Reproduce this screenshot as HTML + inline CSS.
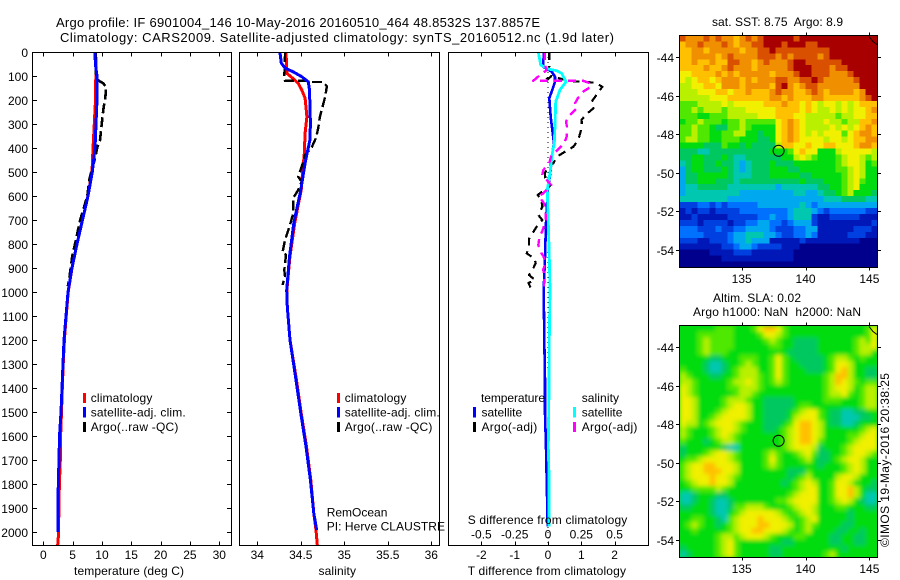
<!DOCTYPE html>
<html>
<head>
<meta charset="utf-8">
<title>Argo profile 6901004_146</title>
<style>
html,body{margin:0;padding:0;background:#fff;}
svg{display:block;}
text{font-family:"Liberation Sans",sans-serif;font-size:12px;fill:#000;white-space:pre;}
.ttl{font-size:13px;}
</style>
</head>
<body>
<svg id="chart" xmlns="http://www.w3.org/2000/svg" width="900" height="580" viewBox="0 0 900 580">
<defs>
<filter id="slaSmooth" x="-5%" y="-5%" width="110%" height="110%"><feGaussianBlur stdDeviation="2.2"/></filter>
<clipPath id="slaClip"><rect x="679.5" y="325.5" width="198" height="232"/></clipPath>
</defs>
<rect x="0" y="0" width="900" height="580" fill="#ffffff"/>
<text class="ttl" x="56" y="27" textLength="484">Argo profile: IF 6901004_146 10-May-2016 20160510_464 48.8532S 137.8857E</text>
<text class="ttl" x="60" y="42" textLength="554">Climatology: CARS2009. Satellite-adjusted climatology: synTS_20160512.nc (1.9d later)</text>
<text x="712" y="26" textLength="131">sat. SST: 8.75  Argo: 8.9</text>
<text x="713" y="302" textLength="88">Altim. SLA: 0.02</text>
<text x="693" y="316" textLength="168">Argo h1000: NaN  h2000: NaN</text>
<g id="maps"></g>
<g id="panels"></g>
<text x="74" y="575" textLength="110">temperature (deg C)</text>
<text x="318.5" y="575" textLength="37.5">salinity</text>
<text x="467.7" y="575" textLength="158.3">T difference from climatology</text>
<text x="467.7" y="524" textLength="159.6">S difference from climatology</text>

<rect x="83" y="393" width="3" height="10" fill="#ff0000"/>
<rect x="83" y="407" width="3" height="10.5" fill="#0000ff"/>
<rect x="83" y="422" width="3" height="10" fill="#000000"/>
<text x="90.7" y="402" textLength="61.7">climatology</text>
<text x="90.7" y="416.5" textLength="95">satellite-adj. clim.</text>
<text x="90.7" y="431" textLength="87.7">Argo(..raw -QC)</text>

<rect x="337" y="393" width="3" height="10" fill="#ff0000"/>
<rect x="337" y="407" width="3" height="10.5" fill="#0000ff"/>
<rect x="337" y="422" width="3" height="10" fill="#000000"/>
<text x="344.7" y="402" textLength="61.7">climatology</text>
<text x="344.7" y="416.5" textLength="95">satellite-adj. clim.</text>
<text x="344.7" y="431" textLength="87.7">Argo(..raw -QC)</text>

<text x="481" y="402" textLength="64">temperature</text>
<rect x="473" y="407" width="3" height="10.5" fill="#0000ff"/>
<rect x="473" y="422" width="3" height="10" fill="#000000"/>
<text x="481.5" y="416.5" textLength="40.7">satellite</text>
<text x="481.5" y="431" textLength="55.7">Argo(-adj)</text>
<text x="581.7" y="402" textLength="37.3">salinity</text>
<rect x="573" y="407" width="3" height="10.5" fill="#00ffff"/>
<rect x="573" y="422" width="3" height="10" fill="#ff00ff"/>
<text x="581.7" y="416.5" textLength="40.7">satellite</text>
<text x="581.7" y="431" textLength="55.7">Argo(-adj)</text>

<text x="326.7" y="516.5" textLength="60.7">RemOcean</text>
<text x="326.7" y="530.5" textLength="118.3">PI: Herve CLAUSTRE</text>
<text transform="rotate(-90 889 547)" x="889" y="547" textLength="174">©IMOS 19-May-2016 20:38:25</text>
</svg>
<script>
/* ---------- chart data ---------- */
const depthTicks = [0,100,200,300,400,500,600,700,800,900,1000,1100,1200,1300,1400,1500,1600,1700,1800,1900,2000];
const tempTicks = [0,5,10,15,20,25,30];
const salTicks = [34,34.5,35,35.5,36];
const salTickLabels = ['34','34.5','35','35.5','36'];
const tDiffTicks = [-2,-1,0,1,2];
const sDiffTickLabels = ['-0.5','-0.25','0','0.25','0.5'];
const sDiffTicks = [-0.5,-0.25,0,0.25,0.5];
const latTicks = [-44,-46,-48,-50,-52,-54];
const lonTicks = [135,140,145];

const tempClimDepth = [0,50,100,200,300,400,500,600,700,800,900,1000,1100,1200,1300,1400,1500,1600,1700,1800,1900,2000,2054];
const tempClimValues = [8.9,9.0,8.95,8.9,8.69,8.47,8.3,7.6,6.68,5.74,4.89,4.25,3.9,3.6,3.4,3.24,3.1,2.95,2.9,2.75,2.65,2.62,2.45];
const tempSatDepth = [0,50,100,150,200,300,400,500,600,700,800,900,1000,1100,1200,1300,1400,1500,1600,1700,1800,1900,2000];
const tempSatValues = [8.81,8.89,9.15,9.15,9.15,8.98,8.81,8.35,7.62,6.68,5.74,4.89,4.21,3.87,3.53,3.36,3.19,3.02,2.76,2.67,2.56,2.5,2.5];
const tempArgoDepth = [0,100,117,130,145,200,228,300,367,390,445,510,533,600,700,800,850,950,975];
const tempArgoValues = [8.9,9.0,9.3,10.2,10.7,10.56,10.3,9.95,9.66,9.27,8.8,8.07,7.84,7.5,6.3,5.4,4.95,4.4,4.2];

const salClimDepth = [0,89,110,130,158,192,270,338,422,505,575,713,853,992,1061,1200,1367,1505,1644,1783,1922,1992,2054];
const salClimValues = [34.33,34.34,34.41,34.47,34.51,34.55,34.57,34.55,34.54,34.52,34.505,34.43,34.375,34.34,34.345,34.376,34.45,34.505,34.565,34.615,34.65,34.675,34.69];
const salSatDepth = [0,46,67,82,103,124,158,297,367,408,463,575,713,853,992,1061,1200,1367,1505,1644,1783,1922,1992];
const salSatValues = [34.26,34.276,34.32,34.41,34.51,34.586,34.6,34.61,34.605,34.58,34.55,34.5,34.42,34.37,34.338,34.345,34.376,34.445,34.5,34.56,34.61,34.65,34.683];
const salArgoDepth = [0,105,120,120,125,125,142,186,215,270,318,358,397,429,478,520,540,575,608,671,721,783,836,845,908,936,971];
const salArgoValues = [34.32,34.31,34.318,34.568,34.63,34.75,34.8,34.78,34.76,34.72,34.7,34.675,34.625,34.548,34.51,34.47,34.51,34.47,34.414,34.414,34.376,34.318,34.29,34.33,34.31,34.318,34.29];

const diffZeroDepth = [0,2054];
const diffZeroValues = [0,0];
const tDiffSatDepth = [0,61,82,103,124,158,192,270,325,380,422,505,575,713,853,992,1200,1367,1505,1644,1783,1900,1978];
const tDiffSatValues = [-0.12,-0.15,0.11,0.21,0.21,0.13,0.04,0.08,0.13,0.18,0.13,0.07,-0.01,-0.06,-0.09,-0.13,-0.11,-0.09,-0.09,-0.06,-0.04,-0.02,-0.01];
const tDiffArgoDepth = [0,60,82,96,114,100,120,128,145,207,235,262,283,310,367,395,420,436,464,475,505,525,554,596,615,645,679,700,728,750,778,811,839,860,880,901,929,950,962,985];
const tDiffArgoValues = [0.04,0.04,-0.09,-0.11,0,0.1,0.6,1.43,1.63,1.31,1.36,1.13,1.01,1.02,0.91,0.76,0.46,0.27,0.16,0.01,-0.09,-0.08,0.09,-0.31,-0.2,-0.17,-0.29,-0.17,-0.34,-0.44,-0.57,-0.57,-0.64,-0.41,-0.37,-0.44,-0.57,-0.39,-0.59,-0.51];
const sDiffSatDepth = [0,54,71,78,89,124,158,207,297,380,422,505,575,713,853,992,1200,1367,1644,1783,1978];
const sDiffSatValues = [-0.073,-0.055,0.002,0.065,0.103,0.135,0.09,0.058,0.053,0.047,0.032,0.015,-0.005,0.002,0.01,0.015,0.01,0.008,0.002,0.008,0.008];
const sDiffArgoDepth = [0,55,75,96,120,120,131,147,165,193,214,235,262,290,318,353,380,405,436,464,492,513,533,554,589,600,631,660,700,742,775,804,838,850,879,905,933,978];
const sDiffArgoValues = [-0.023,-0.023,-0.01,-0.06,-0.11,0.264,0.32,0.315,0.264,0.223,0.203,0.215,0.165,0.135,0.145,0.14,0.122,0.077,0.023,0.008,-0.035,-0.043,-0.01,0.023,-0.035,-0.068,-0.03,-0.02,-0.015,-0.04,-0.065,-0.073,-0.05,-0.035,-0.017,-0.035,-0.03,-0.03];

/* gridded satellite values: one hex colour-level per cell, west to east, north to south */
const sstLevels = [
"dcccdcdccbc"+"dcdeeeeedee"+"eeeeeeeeeee",
"bccdcccdcbc"+"cddeeedeeed"+"deeeeeeeeee",
"bbccbcccccb"+"ccddedddddd"+"dddeeeeeeee",
"bbccccbcdcc"+"ccdddcdcddd"+"dcdeeeeeeee",
"bbcbbcbbddc"+"cbcdcccdeed"+"dddddeeeeee",
"bbbbcbbcdcc"+"cbcccccdeee"+"dddcddeeeee",
"aabbbbcbcbc"+"ccccbcccdee"+"dddcccdeeee",
"a9abbabcccb"+"cbcccddccdd"+"edcccccdeee",
"99aabbacccb"+"ccccbdecbcd"+"dccccccceee",
"999aaabbabb"+"cbbbcdccbbc"+"dcbccccbcee",
"99999aaabbb"+"bbbbccbcbbb"+"ccbbbbbbcde",
"8889999a9aa"+"aaabbbcbbab"+"a9aa9a9abbb",
"88989998999"+"aaaaabbbbab"+"a99a9a9aabc",
"88877888999"+"99aaabbbaa9"+"9999899aabb",
"78898887889"+"88888abcba9"+"99a99899bbc",
"88988766889"+"87777abcba9"+"999a9a9abcb",
"88988778899"+"77677abcba9"+"a9aaa8abccb",
"89988778887"+"77667abcbaa"+"aa9aa9abbcc",
"77776668776"+"766669bbaab"+"aabbaaabccb",
"66655666666"+"66667778aba"+"a7779aaaaa9",
"66776667655"+"666666779a9"+"877789aa989",
"56776676654"+"56667666777"+"777789aa978",
"46776667654"+"56667776677"+"7777889a977",
"46677777655"+"56667777766"+"7777789a977",
"46677766656"+"66666666676"+"6677789a877",
"45566666555"+"55555455555"+"5667789a777",
"45555555554"+"44444444554"+"45667897776",
"55555555444"+"44444444444"+"44555666655",
"22233232333"+"33444444454"+"34444444444",
"12122122223"+"33333334555"+"43233333322",
"11211111222"+"22334334555"+"21122222111",
"22212222122"+"33443323444"+"21111111112",
"33322232233"+"44443222334"+"41111112221",
"33332222344"+"55544322334"+"31111122211",
"22211222344"+"54441111121"+"11111111000",
"11111112234"+"43222211100"+"00000000000",
"00000111122"+"21111111000"+"00000000000",
"00000001111"+"11111111000"+"00000000000",
"00000000000"+"00000000000"+"00000000000"
];
const slaLevels = [
"77777788877"+"78abba87777"+"7777777778a",
"77788888877"+"778aa987777"+"7777777778a",
"77789888877"+"77789877666"+"6777777898a",
"77789888877"+"77778877666"+"6777777899a",
"77789888777"+"77777776666"+"67777778997",
"77777667778"+"88778a87666"+"66789987877",
"77776556778"+"98778a87766"+"6678aa97777",
"87776556789"+"99778a87776"+"6678ab97766",
"98777667789"+"99878a87777"+"7789bb97766",
"99877777899"+"a9878987777"+"7789ba98788",
"a9877777889"+"99877777777"+"7789aa97899",
"a9877777789"+"98777777777"+"77899a87899",
"aa977778999"+"87766666777"+"77888777899",
"aa9777789aa"+"97766666788"+"77777777899",
"aa977789aaa"+"9776666789a"+"a8766556677",
"aa97789aaaa"+"977666679aa"+"a8766555667",
"a99789aaa98"+"77766678abb"+"a9766556777",
"9877789aa98"+"77766789abb"+"a977777789a",
"9877789a987"+"77777789abb"+"a97777889aa",
"87776789987"+"77777789abb"+"a8777789aaa",
"67777776557"+"77777789aaa"+"9677789aaaa",
"677789aa987"+"7778987789a"+"8667789aa98",
"7889aaaa987"+"7778a877789"+"766789aa977",
"89aabbaaa97"+"77789877777"+"7677789a977",
"89aabbbaa97"+"77777776668"+"7777789a977",
"89aaabaa987"+"77777776789"+"77779aa9777",
"789aabaa977"+"7777776789a"+"9778aa97776",
"77888898777"+"7777777789a"+"a778aab9766",
"55677766777"+"777777789aa"+"a778aab9755",
"55677655677"+"77777889aaa"+"a7789a97655",
"66777655688"+"999877789aa"+"97778877766",
"77777655789"+"aaaaa98789a"+"97777767777",
"7788776589a"+"aabaaa98789"+"a7777767777",
"7898776789a"+"aabbaaa9789"+"87777667777",
"7787777789a"+"abbaaa98789"+"77776677677",
"77777789989"+"aaa98777887"+"77766776677",
"77777789a87"+"77777766777"+"77766776677",
"67777789a87"+"77776677777"+"77777677777",
"56777789a87"+"77776677777"+"77897777777"
];
const argoLon = [137.8857];
const argoLat = [-48.8532];
const levelColours = ["#00008c","#0018b8","#0040e0","#0070ff","#00a8f0","#00c8b0","#00c860","#00dc10","#50e800","#b8f000","#f0f000","#ffc000","#f09000","#d85000","#a80000"];

/* ---------- axis functions ---------- */
const yDepth = d => 52 + d * 0.24;
const xTemp = t => 43.3 + t * 5.865;
const xSal = s => 257.3 + (s - 34) * 87;
const xTDiff = t => 548 + t * 33.3;
const xSDiff = s => 548 + s * 133.2;
const xLon = l => 741.7 + (l - 135) * 12.77;
const yLatA = l => 57.3 + (-44 - l) * 19.27;
const yLatB = l => 347.3 + (-44 - l) * 19.27;

const NS = 'http://www.w3.org/2000/svg';
const panelRoot = document.getElementById('panels');
const mapRoot = document.getElementById('maps');

function mk(tag, attrs, parent) {
  const el = document.createElementNS(NS, tag);
  for (const k in attrs) el.setAttribute(k, attrs[k]);
  parent.appendChild(el);
  return el;
}
function tickLine(x1, y1, x2, y2, name, parent) {
  const el = mk('line', {x1, y1, x2, y2, stroke:'#000', 'stroke-width':1, 'shape-rendering':'crispEdges'}, parent);
  
  
}
function label(x, y, str, anchor, name, parent) {
  const el = mk('text', {x, y, 'text-anchor':anchor}, parent);
  el.textContent = str;
  
  
}
function box(x1, y1, x2, y2, name, parent) {
  const el = mk('rect', {x:x1, y:y1, width:x2-x1, height:y2-y1, fill:'none', stroke:'#000', 'stroke-width':1, 'shape-rendering':'crispEdges'}, parent);
  
  
}
function series(depths, values, xFn, colour, width, dash, name, parent) {
  const pts = depths.map((d, i) => xFn(values[i]).toFixed(1) + ',' + yDepth(d).toFixed(1)).join(' ');
  const el = mk('polyline', {points:pts, fill:'none', stroke:colour, 'stroke-width':width, 'stroke-linejoin':'round', 'shape-rendering':'crispEdges'}, parent);
  if (dash) el.setAttribute('stroke-dasharray', dash);
  
  
}

/* ---------- profile panels ---------- */
const frameTop = 52.5, frameBottom = 545.5;

/* temperature panel */
depthTicks.forEach(d => {
  const y = Math.round(yDepth(d)) + 0.5;
  tickLine(32.5, y, 37, y, 'depth-tick-left', panelRoot);
  tickLine(227, y, 231.5, y, 'depth-tick-right', panelRoot);
  label(28, y + 4.5, String(d), 'end', 'depth-tick-label', panelRoot);
});
tempTicks.forEach(t => {
  const x = Math.round(xTemp(t)) + 0.5;
  tickLine(x, frameTop, x, frameTop + 4, 'temperature-tick-top', panelRoot);
  tickLine(x, frameBottom - 4, x, frameBottom, 'temperature-tick-bottom', panelRoot);
  label(xTemp(t), 559, String(t), 'middle', 'temperature-tick-label', panelRoot);
});
series(tempClimDepth, tempClimValues, xTemp, '#ff0000', 3, null, 'temperature-climatology-line', panelRoot);
series(tempArgoDepth, tempArgoValues, xTemp, '#000000', 2.6, '10 4', 'temperature-argo-line', panelRoot);
series(tempSatDepth, tempSatValues, xTemp, '#0000ff', 3, null, 'temperature-satellite-line', panelRoot);
box(32.5, frameTop, 231.5, frameBottom, 'temperature-panel-frame', panelRoot);

/* salinity panel */
salTicks.forEach((s, i) => {
  const x = Math.round(xSal(s)) + 0.5;
  tickLine(x, frameTop, x, frameTop + 4, 'salinity-tick-top', panelRoot);
  tickLine(x, frameBottom - 4, x, frameBottom, 'salinity-tick-bottom', panelRoot);
  label(xSal(s), 559, salTickLabels[i], 'middle', 'salinity-tick-label', panelRoot);
});
series(salClimDepth, salClimValues, xSal, '#ff0000', 3, null, 'salinity-climatology-line', panelRoot);
series(salArgoDepth, salArgoValues, xSal, '#000000', 2.4, '10 4', 'salinity-argo-line', panelRoot);
series(salSatDepth, salSatValues, xSal, '#0000ff', 3, null, 'salinity-satellite-line', panelRoot);
box(239.5, frameTop, 439.5, frameBottom, 'salinity-panel-frame', panelRoot);

/* difference panel */
tDiffTicks.forEach(t => {
  const x = Math.round(xTDiff(t)) + 0.5;
  tickLine(x, frameTop, x, frameTop + 4, 'difference-tick-top', panelRoot);
  tickLine(x, frameBottom - 4, x, frameBottom, 'difference-tick-bottom', panelRoot);
  label(xTDiff(t), 559, String(t), 'middle', 't-difference-tick-label', panelRoot);
});
sDiffTicks.forEach((s, i) => {
  label(xSDiff(s), 538.5, sDiffTickLabels[i], 'middle', 's-difference-tick-label', panelRoot);
});
series(diffZeroDepth, diffZeroValues, xTDiff, '#000000', 1, '1 4', 'zero-difference-line', panelRoot);
series(tDiffSatDepth, tDiffSatValues, xTDiff, '#0000ff', 2.6, null, 't-difference-satellite-line', panelRoot);
series(tDiffArgoDepth, tDiffArgoValues, xTDiff, '#000000', 2.2, '8 6', 't-difference-argo-line', panelRoot);
series(sDiffSatDepth, sDiffSatValues, xSDiff, '#00ffff', 2.8, null, 's-difference-satellite-line', panelRoot);
series(sDiffArgoDepth, sDiffArgoValues, xSDiff, '#ff00ff', 2.4, '8 6', 's-difference-argo-line', panelRoot);
box(448.5, frameTop, 648.5, frameBottom, 'difference-panel-frame', panelRoot);

/* ---------- maps ---------- */
function heatmap(levels, left, topY, w, h, name, parentEl) {
  const g = mk('g', {'shape-rendering':'crispEdges'}, parentEl);
  
  
  const rows = levels.length, cols = levels[0].length;
  const cw = w / cols, ch = h / rows;
  levels.forEach((row, r) => {
    for (let c = 0; c < row.length; c++) {
      const level = parseInt(row[c], 16);
      const cell = mk('rect', {x:(left + c * cw).toFixed(2), y:(topY + r * ch).toFixed(2), width:(cw + 0.4).toFixed(2), height:(ch + 0.4).toFixed(2), fill:levelColours[level]}, g);
      
      
    }
  });
  return g;
}
function mapFrame(yFn, t, b, prefix, lonLabelY) {
  latTicks.forEach(l => {
    const y = Math.round(yFn(l)) + 0.5;
    tickLine(676, y, 679.5, y, prefix + '-lat-tick-left', mapRoot);
    tickLine(877.5, y, 881, y, prefix + '-lat-tick-right', mapRoot);
    label(674, y + 4.5, String(l), 'end', prefix + '-lat-label', mapRoot);
  });
  lonTicks.forEach(l => {
    const x = Math.round(xLon(l)) + 0.5;
    tickLine(x, t - 3, x, t, prefix + '-lon-tick-top', mapRoot);
    tickLine(x, b, x, b + 3, prefix + '-lon-tick-bottom', mapRoot);
    label(xLon(l), lonLabelY, String(l), 'middle', prefix + '-lon-label', mapRoot);
  });
  const coast = mk('polyline', {points:`869,${t+1} 873,${t+6} 877,${t+9}`, fill:'none', stroke:'#000', 'stroke-width':1}, mapRoot);
  
  
  box(679.5, t, 877.5, b, prefix + '-map-frame', mapRoot);
  argoLon.forEach((lon, i) => {
    const m = mk('circle', {cx:xLon(lon).toFixed(1), cy:yFn(argoLat[i]).toFixed(1), r:5.5, fill:'none', stroke:'#000', 'stroke-width':1}, mapRoot);
    
    
  });
}
heatmap(sstLevels, 679.5, 35.5, 198, 232, 'sst-heatmap', mapRoot);
mapFrame(yLatA, 35.5, 267.5, 'sst', 283);

const slaClipGroup = mk('g', {'clip-path':'url(#slaClip)'}, mapRoot);


const slaBase = mk('rect', {x:679.5, y:325.5, width:198, height:232, fill:levelColours[7]}, slaClipGroup);


const slaGroup = heatmap(slaLevels, 679.5, 325.5, 198, 232, 'sla-heatmap', slaClipGroup);
slaGroup.setAttribute('filter', 'url(#slaSmooth)');
mapFrame(yLatB, 325.5, 557.5, 'sla', 573);
</script>
</body>
</html>
